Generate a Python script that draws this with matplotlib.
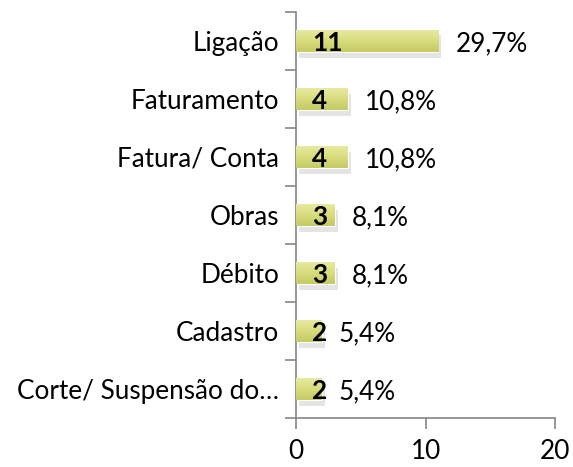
import numpy as np
import matplotlib.pyplot as plt
import matplotlib.patheffects as pe
from matplotlib.colors import LinearSegmentedColormap
from matplotlib.transforms import offset_copy

categories = ["Ligação", "Faturamento", "Fatura/ Conta", "Obras", "Débito",
              "Cadastro", "Corte/ Suspensão do…"]
counts = [11, 4, 4, 3, 3, 2, 2]
percents = ["29,7%", "10,8%", "10,8%", "8,1%", "8,1%", "5,4%", "5,4%"]
xticks = [0, 10, 20]

plt.rcParams['font.family'] = ['Lato', 'DejaVu Sans']
fs = 18.8

fig = plt.figure(figsize=(5.73, 4.67), dpi=100)
ax = fig.add_axes([0.5166, 0.1049, 0.452, 0.8695])

ypos = np.arange(len(categories))[::-1]
bar_h = 0.38
grad = LinearSegmentedColormap.from_list("g", ["#c4ca64", "#d9dd7e", "#e9eba2"])

bars = ax.barh(ypos, counts, height=bar_h, color="#d9dd7e", edgecolor="white",
               linewidth=0.8, zorder=2,
               path_effects=[pe.SimplePatchShadow(offset=(2, -4), shadow_rgbFace="#a8a8a8", alpha=0.3),
                             pe.Normal()])
for b in bars:
    x0, y0 = b.get_x(), b.get_y()
    w, h = b.get_width(), b.get_height()
    im = ax.imshow(np.linspace(0, 1, 50).reshape(-1, 1), cmap=grad, aspect="auto",
                   extent=[x0, x0 + w, y0, y0 + h], origin="lower", zorder=3,
                   interpolation="bilinear")
    im.set_clip_path(b)

val_tr = offset_copy(ax.transData, fig=fig, x=16, y=0, units="dots")
pct_tr = offset_copy(ax.transData, fig=fig, x=17, y=0, units="dots")
for y, c, p in zip(ypos, counts, percents):
    ax.text(0, y, str(c), transform=val_tr, ha="left", va="center_baseline",
            fontsize=fs, fontweight="bold", color="black", zorder=5)
    ax.text(c, y, p, transform=pct_tr, ha="left", va="center_baseline",
            fontsize=fs, color="black", zorder=5)

ax.set_xlim(0, 20)
ax.set_ylim(-0.5, len(categories) - 0.5)
ax.set_xticks(xticks)
ax.set_xticklabels([str(t) for t in xticks], fontsize=fs)
ax.set_yticks(ypos)
ax.set_yticklabels(categories, fontsize=fs)
ax.set_yticks(np.arange(-0.5, len(categories), 1.0), minor=True)
ax.tick_params(axis="y", which="major", length=0, pad=12)
ax.tick_params(axis="y", which="minor", length=8, color="#868686", width=1.2)
ax.tick_params(axis="x", length=8, color="#868686", width=1.2, pad=7)

for s in ["top", "right"]:
    ax.spines[s].set_visible(False)
for s in ["left", "bottom"]:
    ax.spines[s].set_color("#868686")
    ax.spines[s].set_linewidth(1.2)

fig.savefig("out.png", dpi=100)
